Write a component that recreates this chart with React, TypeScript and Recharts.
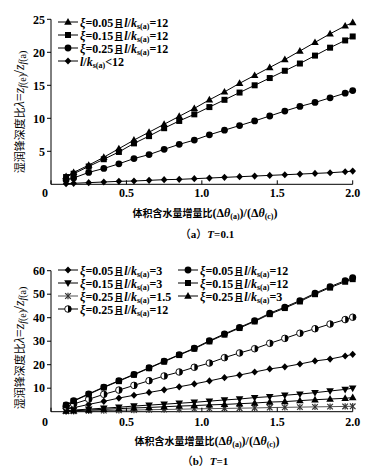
import React from "react";
import { LineChart, Line, XAxis, YAxis } from "recharts";

const serif = "'Liberation Serif', 'Noto Sans CJK SC', serif";
const cjk = "'Noto Sans CJK SC', sans-serif";

// shared x positions (volume water content increment ratio)
const xValues = [0.1, 0.15, 0.25, 0.35, 0.45, 0.55, 0.65, 0.75, 0.85, 0.95, 1.05, 1.15, 1.25, 1.35, 1.45, 1.55, 1.65, 1.75, 1.85, 1.95, 2.0];
const xTicks = [0, 0.5, 1, 1.5, 2];

// (a) T=0.1
const aTicksY = [5, 10, 15, 20, 25];
const aXi005 = [1.2, 1.8, 2.9, 4.1, 5.4, 6.7, 7.9, 9.1, 10.3, 11.5, 12.8, 14.0, 15.3, 16.5, 17.7, 18.9, 20.2, 21.5, 22.8, 24.0, 24.5];
const aXi015 = [1.1, 1.6, 2.7, 3.8, 4.9, 6.2, 7.3, 8.5, 9.6, 10.6, 11.7, 12.8, 13.9, 15.0, 16.1, 17.2, 18.3, 19.5, 20.7, 21.8, 22.4];
const aXi025 = [0.65, 0.95, 1.8, 2.4, 3.1, 3.9, 4.5, 5.3, 6.05, 6.7, 7.5, 8.2, 8.9, 9.6, 10.35, 11.1, 11.8, 12.4, 13.1, 13.8, 14.2];
const aLkLess = [0.1, 0.15, 0.25, 0.35, 0.45, 0.5, 0.6, 0.7, 0.75, 0.85, 0.95, 1.05, 1.15, 1.25, 1.35, 1.45, 1.55, 1.65, 1.75, 1.9, 2.0];

// (b) T=1
const bTicksY = [10, 20, 30, 40, 50, 60];
const bXi005Lk3 = [1.1, 1.7, 3.1, 4.4, 5.8, 7.0, 8.2, 9.3, 10.6, 11.8, 13.1, 14.5, 15.6, 16.9, 18.2, 19.1, 20.3, 21.6, 22.4, 23.7, 24.4];
const bXi015Lk3 = [0.4, 0.7, 1.1, 1.5, 1.9, 2.4, 2.8, 3.2, 3.6, 4.0, 4.5, 5.0, 5.4, 6.0, 6.4, 7.0, 7.5, 8.1, 8.8, 9.5, 10.0];
const bXi025Lk15 = [0.15, 0.2, 0.35, 0.45, 0.6, 0.7, 0.85, 0.95, 1.05, 1.2, 1.3, 1.4, 1.5, 1.6, 1.75, 1.85, 1.95, 2.05, 2.15, 2.25, 2.3];
const bXi025Lk12 = [2.1, 3.3, 5.3, 7.4, 9.2, 11.2, 13.2, 15.2, 16.9, 18.9, 20.7, 23.0, 25.0, 26.8, 29.1, 31.2, 33.4, 35.3, 37.3, 39.2, 40.2];
const bXi005Lk12 = [2.9, 4.7, 7.6, 10.5, 13.2, 15.9, 18.7, 21.5, 24.3, 27.0, 30.2, 33.1, 35.9, 38.7, 41.9, 44.5, 47.3, 50.4, 53.2, 55.8, 57.0];
const bXi015Lk12 = [2.7, 4.5, 7.4, 10.3, 13.0, 15.7, 18.5, 21.3, 24.1, 26.8, 29.9, 32.8, 35.6, 38.4, 41.5, 44.1, 46.9, 50.0, 52.8, 55.3, 56.4];
const bXi025Lk3 = [0.3, 0.4, 0.7, 1.0, 1.3, 1.6, 1.8, 2.1, 2.4, 2.6, 2.9, 3.1, 3.4, 3.7, 4.1, 4.3, 4.7, 5.1, 5.4, 5.7, 6.0];

const dataA = xValues.map((x, i) => ({ x, s1: aXi005[i], s2: aXi015[i], s3: aXi025[i], s4: aLkLess[i] }));
const dataB = xValues.map((x, i) => ({
  x, d: bXi005Lk3[i], v: bXi015Lk3[i], st: bXi025Lk15[i], h: bXi025Lk12[i],
  c: bXi005Lk12[i], sq: bXi015Lk12[i], t: bXi025Lk3[i],
}));

type Shape = "triangle" | "triangleDown" | "square" | "circle" | "diamond" | "star" | "half";

function Marker({ shape, cx, cy }: { shape: Shape; cx: number; cy: number }) {
  if (cx == null || cy == null) return null;
  switch (shape) {
    case "triangle":
      return <polygon points={`${cx},${cy - 4} ${cx + 3.8},${cy + 2.7} ${cx - 3.8},${cy + 2.7}`} fill="#000" />;
    case "triangleDown":
      return <polygon points={`${cx},${cy + 4} ${cx + 3.8},${cy - 2.7} ${cx - 3.8},${cy - 2.7}`} fill="#000" />;
    case "square":
      return <rect x={cx - 3} y={cy - 3} width={6} height={6} fill="#000" />;
    case "circle":
      return <circle cx={cx} cy={cy} r={3.4} fill="#000" />;
    case "diamond":
      return <polygon points={`${cx},${cy - 3.6} ${cx + 3.3},${cy} ${cx},${cy + 3.6} ${cx - 3.3},${cy}`} fill="#000" />;
    case "star":
      return (
        <g stroke="#333" strokeWidth={1.2}>
          <line x1={cx - 2.8} y1={cy - 2.8} x2={cx + 2.8} y2={cy + 2.8} />
          <line x1={cx - 2.8} y1={cy + 2.8} x2={cx + 2.8} y2={cy - 2.8} />
          <line x1={cx} y1={cy - 3.2} x2={cx} y2={cy + 3.2} />
        </g>
      );
    case "half":
      return (
        <g>
          <circle cx={cx} cy={cy} r={3.3} fill="#fff" stroke="#000" strokeWidth={0.9} />
          <path d={`M${cx},${cy - 3.3} A3.3,3.3 0 0 1 ${cx},${cy + 3.3} Z`} fill="#000" />
        </g>
      );
  }
  return null;
}

const dotOf = (shape: Shape) => (p: any) => <Marker key={`${shape}-${p.index}`} shape={shape} cx={p.cx} cy={p.cy} />;

const fmtX = (v: number) => (v === 0 ? "0" : v.toFixed(1));

const XTick = (props: any) => {
  const { x, y, payload } = props;
  const dx = payload.value === 0 ? -6 : 0;
  return (
    <text x={x + dx} y={y} dy="0.71em" textAnchor="middle" fontFamily={serif} fontSize={12} fontWeight="bold" fill="#000">
      {fmtX(payload.value)}
    </text>
  );
};

const yTickStyle = { fill: "#000", fontSize: 12, fontWeight: "bold", fontFamily: serif };

const Sub = ({ children, size = 8 }: { children: React.ReactNode; size?: number }) => (
  <span style={{ fontSize: size, position: "relative", top: 2, lineHeight: 0 }}>{children}</span>
);

function LegendText({ xi, lk }: { xi: string | null; lk: string }) {
  return (
    <span style={{ fontFamily: serif, fontSize: 12, fontWeight: "bold", lineHeight: "11px" }}>
      {xi && (
        <>
          <i>ξ</i>={xi}
          <span style={{ fontFamily: cjk, fontSize: 9, fontWeight: 700, margin: "0 1px" }}>且</span>
        </>
      )}
      <i>l</i>/<i>k</i>
      <Sub>s(a)</Sub>
      {lk}
    </span>
  );
}

function LegendRow({ left, top, shape, xi, lk, grey }: { left: number; top: number; shape: Shape; xi: string | null; lk: string; grey?: boolean }) {
  return (
    <div style={{ position: "absolute", left, top: top - 6, height: 12, lineHeight: "11px", display: "flex", alignItems: "center", whiteSpace: "nowrap" }}>
      <svg width={20} height={10} style={{ display: "block" }}>
        <line x1={0} y1={5} x2={20} y2={5} stroke={grey ? "#555" : "#000"} strokeWidth={1} />
        <Marker shape={shape} cx={10} cy={5} />
      </svg>
      <span style={{ marginLeft: 2 }}>
        <LegendText xi={xi} lk={lk} />
      </span>
    </div>
  );
}

// legend entries
const legendA: { shape: Shape; xi: string | null; lk: string }[] = [
  { shape: "triangle", xi: "0.05", lk: "=12" },
  { shape: "square", xi: "0.15", lk: "=12" },
  { shape: "circle", xi: "0.25", lk: "=12" },
  { shape: "diamond", xi: null, lk: "<12" },
];
const legendB1: { shape: Shape; xi: string; lk: string }[] = [
  { shape: "diamond", xi: "0.05", lk: "=3" },
  { shape: "triangleDown", xi: "0.15", lk: "=3" },
  { shape: "star", xi: "0.25", lk: "=1.5" },
  { shape: "half", xi: "0.25", lk: "=12" },
];
const legendB2: { shape: Shape; xi: string; lk: string }[] = [
  { shape: "circle", xi: "0.05", lk: "=12" },
  { shape: "square", xi: "0.15", lk: "=12" },
  { shape: "triangle", xi: "0.25", lk: "=3" },
];

function XTitle({ cx, cy }: { cx: number; cy: number }) {
  return (
    <div style={{ position: "absolute", left: cx, top: cy, transform: "translate(-50%, -50%)", whiteSpace: "nowrap", fontFamily: serif, fontSize: 12, fontWeight: "bold", color: "#000" }}>
      <span style={{ fontFamily: cjk, fontSize: 10, fontWeight: 700 }}>体积含水量增量比</span>
      (Δ<i>θ</i>
      <Sub size={8}>(a)</Sub>)/(Δ<i>θ</i>
      <Sub size={8}>(c)</Sub>)
    </div>
  );
}

function Caption({ cx, cy, tag, t }: { cx: number; cy: number; tag: string; t: string }) {
  return (
    <div style={{ position: "absolute", left: cx, top: cy, transform: "translate(-50%, -50%)", whiteSpace: "nowrap", fontFamily: serif, fontSize: 11, fontWeight: "bold", color: "#000" }}>
      <span style={{ fontFamily: cjk, fontWeight: 500 }}>（</span>
      {tag}
      <span style={{ fontFamily: cjk, fontWeight: 500 }}>）</span>
      <i>T</i>={t}
    </div>
  );
}

function YTitle({ cx, cy }: { cx: number; cy: number }) {
  return (
    <div style={{ position: "absolute", left: cx, top: cy, transform: "translate(-50%, -50%) rotate(-90deg)", whiteSpace: "nowrap", fontFamily: serif, fontSize: 14, color: "#000" }}>
      <span style={{ fontFamily: cjk, fontSize: 11 }}>湿润锋深度比</span>
      <i>λ</i>=<i>z</i>
      <Sub size={10}>
        <i>f</i>(e)
      </Sub>
      /<i>z</i>
      <Sub size={10}>
        <i>f</i>(a)
      </Sub>
    </div>
  );
}

export default function App() {
  return (
    <div style={{ position: "absolute", left: 0, top: 0, width: 376, height: 471, background: "#fff", overflow: "hidden" }}>
      <div style={{ position: "absolute", left: 0, top: 0 }}>
        <LineChart width={376} height={235} data={dataA} margin={{ top: 19.3, right: 23.3, left: 20, bottom: 20.7 }}>
          <XAxis dataKey="x" type="number" domain={[0, 2]} ticks={xTicks} height={30} tickSize={-4} tickMargin={8}
            axisLine={{ stroke: "#000" }} tickLine={{ stroke: "#000" }} tick={<XTick />} />
          <YAxis type="number" domain={[0, 25]} ticks={aTicksY} width={31} tickSize={4} tickMargin={2}
            axisLine={{ stroke: "#000" }} tickLine={{ stroke: "#000" }} tick={yTickStyle} />
          <Line dataKey="s4" stroke="#000" strokeWidth={1} dot={dotOf("diamond")} isAnimationActive={false} />
          <Line dataKey="s3" stroke="#000" strokeWidth={1} dot={dotOf("circle")} isAnimationActive={false} />
          <Line dataKey="s2" stroke="#000" strokeWidth={1} dot={dotOf("square")} isAnimationActive={false} />
          <Line dataKey="s1" stroke="#000" strokeWidth={1} dot={dotOf("triangle")} isAnimationActive={false} />
        </LineChart>
      </div>
      {legendA.map((l, i) => (
        <LegendRow key={i} left={58} top={22 + i * 13} shape={l.shape} xi={l.xi} lk={l.lk} />
      ))}
      <YTitle cx={19} cy={111.5} />
      <XTitle cx={205} cy={212.7} />
      <Caption cx={207} cy={232.7} tag="a" t="0.1" />

      <div style={{ position: "absolute", left: 0, top: 250 }}>
        <LineChart width={376} height={221} data={dataB} margin={{ top: 20.7, right: 23.3, left: 20, bottom: 29.3 }}>
          <XAxis dataKey="x" type="number" domain={[0, 2]} ticks={xTicks} height={30} tickSize={-4} tickMargin={10}
            axisLine={{ stroke: "#000" }} tickLine={{ stroke: "#000" }} tick={<XTick />} />
          <YAxis type="number" domain={[0, 60]} ticks={bTicksY} width={31} tickSize={4} tickMargin={2}
            axisLine={{ stroke: "#000" }} tickLine={{ stroke: "#000" }} tick={yTickStyle} />
          <Line dataKey="st" stroke="#555" strokeWidth={1} dot={dotOf("star")} isAnimationActive={false} />
          <Line dataKey="t" stroke="#000" strokeWidth={1} dot={dotOf("triangle")} isAnimationActive={false} />
          <Line dataKey="v" stroke="#000" strokeWidth={1} dot={dotOf("triangleDown")} isAnimationActive={false} />
          <Line dataKey="d" stroke="#000" strokeWidth={1} dot={dotOf("diamond")} isAnimationActive={false} />
          <Line dataKey="h" stroke="#000" strokeWidth={1} dot={dotOf("half")} isAnimationActive={false} />
          <Line dataKey="sq" stroke="#000" strokeWidth={1} dot={dotOf("square")} isAnimationActive={false} />
          <Line dataKey="c" stroke="#000" strokeWidth={1} dot={dotOf("circle")} isAnimationActive={false} />
        </LineChart>
      </div>
      {legendB1.map((l, i) => (
        <LegendRow key={`b1-${i}`} left={58} top={270 + i * 13} shape={l.shape} xi={l.xi} lk={l.lk} grey={l.shape === "star"} />
      ))}
      {legendB2.map((l, i) => (
        <LegendRow key={`b2-${i}`} left={178} top={270 + i * 13} shape={l.shape} xi={l.xi} lk={l.lk} />
      ))}
      <YTitle cx={19} cy={347.5} />
      <XTitle cx={207} cy={440.7} />
      <Caption cx={205} cy={460.3} tag="b" t="1" />
    </div>
  );
}
